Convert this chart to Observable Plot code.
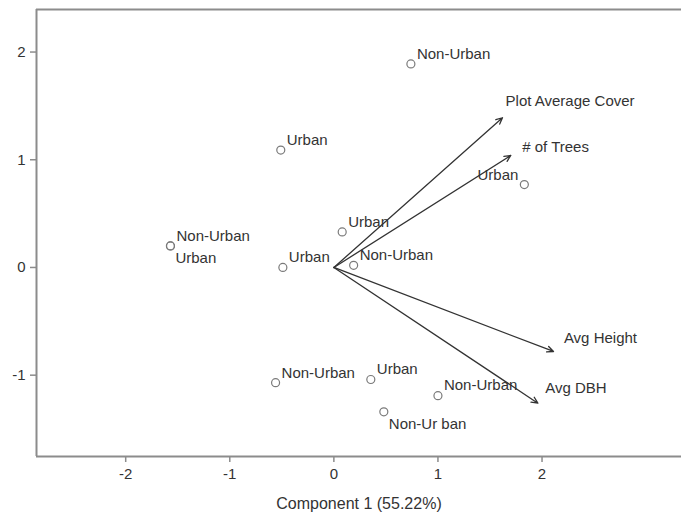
<!DOCTYPE html>
<html><head><meta charset="utf-8">
<script src="https://cdn.jsdelivr.net/npm/d3@7"></script>
<script src="https://cdn.jsdelivr.net/npm/@observablehq/plot@0.6"></script>
<style>body{margin:0;background:#fff;overflow:hidden;}</style>
</head><body><div id="chart"></div>
<script>
// Site scores (Component 1, Component 2)
const pointLabels = ["Non-Urban","Urban","Urban","Non-Urban","Urban","Urban","Urban","Non-Urban","Non-Urban","Urban","Non-Urban","Non-Ur ban"];
const pointX = [0.74,-0.51,1.83,-1.57,-1.57,0.08,-0.49,0.19,-0.56,0.355,1.0,0.48];
const pointY = [1.89,1.09,0.77,0.20,0.20,0.33,0.0,0.02,-1.07,-1.04,-1.19,-1.34];
// label placement code relative to the point (like R's pos): ne, nw, se
const pointLabelPos = ["ne","ne","nw","ne","se","ne","ne","ne","ne","ne","ne","se"];

// Variable loadings (arrows) and their label anchors
const loadingNames = ["Plot Average Cover","# of Trees","Avg Height","Avg DBH"];
const loadingX = [1.62,1.70,2.11,1.96];
const loadingY = [1.39,1.04,-0.78,-1.26];
const loadingLabelX = [1.65,1.81,2.21,2.03];
const loadingLabelY = [1.54,1.12,-0.66,-1.12];

const xTicks = [-2,-1,0,1,2];
const yTicks = [-1,0,1,2];
const xLabel = "Component 1 (55.22%)";

const xDomain = [-2.857,3.34];
const yDomain = [-1.755,2.395];

const points = pointLabels.map((label,i)=>({label, x:pointX[i], y:pointY[i], pos:pointLabelPos[i]}));
const loadings = loadingNames.map((name,i)=>({name, x1:0, y1:0, x2:loadingX[i], y2:loadingY[i], lx:loadingLabelX[i], ly:loadingLabelY[i]}));

const txt = {fill:"#333", fontSize:15, lineAnchor:"middle"};
const frameColor = "#8c8c8c";
const fmt = d => String(d);

const chart = Plot.plot({
  width:681, height:518,
  marginLeft:36, marginRight:0, marginTop:9, marginBottom:62,
  style:{fontFamily:"'Liberation Sans', Arial, sans-serif", background:"#fff"},
  x:{domain:xDomain},
  y:{domain:yDomain},
  marks:[
    Plot.ruleY([yDomain[0]],{x1:xDomain[0], x2:xDomain[1], stroke:frameColor, strokeWidth:2}),
    Plot.ruleY([yDomain[1]],{x1:xDomain[0], x2:xDomain[1], stroke:frameColor, strokeWidth:2}),
    Plot.ruleX([xDomain[0]],{y1:yDomain[0], y2:yDomain[1], stroke:frameColor, strokeWidth:2}),
    Plot.axisX(xTicks,{tickSize:6, tickPadding:6, stroke:frameColor, strokeWidth:1.5, fill:"#333", fontSize:15, label:null, tickFormat:fmt}),
    Plot.axisY(yTicks,{tickSize:6, tickPadding:5, stroke:frameColor, strokeWidth:1.5, fill:"#333", fontSize:15, label:null, tickFormat:fmt}),
    Plot.text([xLabel],{frameAnchor:"bottom", dy:47, fontSize:16, fill:"#333", lineAnchor:"middle"}),
    Plot.arrow(loadings,{x1:"x1", y1:"y1", x2:"x2", y2:"y2", stroke:"#333", strokeWidth:1.3, headLength:8, headAngle:50}),
    Plot.text(loadings,{x:"lx", y:"ly", text:"name", textAnchor:"start", ...txt}),
    Plot.dot(points,{x:"x", y:"y", r:4, stroke:"#7a7a7a", strokeWidth:1.2}),
    Plot.text(points.filter(d=>d.pos==="ne"),{x:"x", y:"y", text:"label", textAnchor:"start", dx:6, dy:-10, ...txt}),
    Plot.text(points.filter(d=>d.pos==="nw"),{x:"x", y:"y", text:"label", textAnchor:"end", dx:-6, dy:-9, ...txt}),
    Plot.text(points.filter(d=>d.pos==="se"),{x:"x", y:"y", text:"label", textAnchor:"start", dx:5, dy:12, ...txt})
  ]
});
document.getElementById("chart").appendChild(chart);
</script>
</body></html>
